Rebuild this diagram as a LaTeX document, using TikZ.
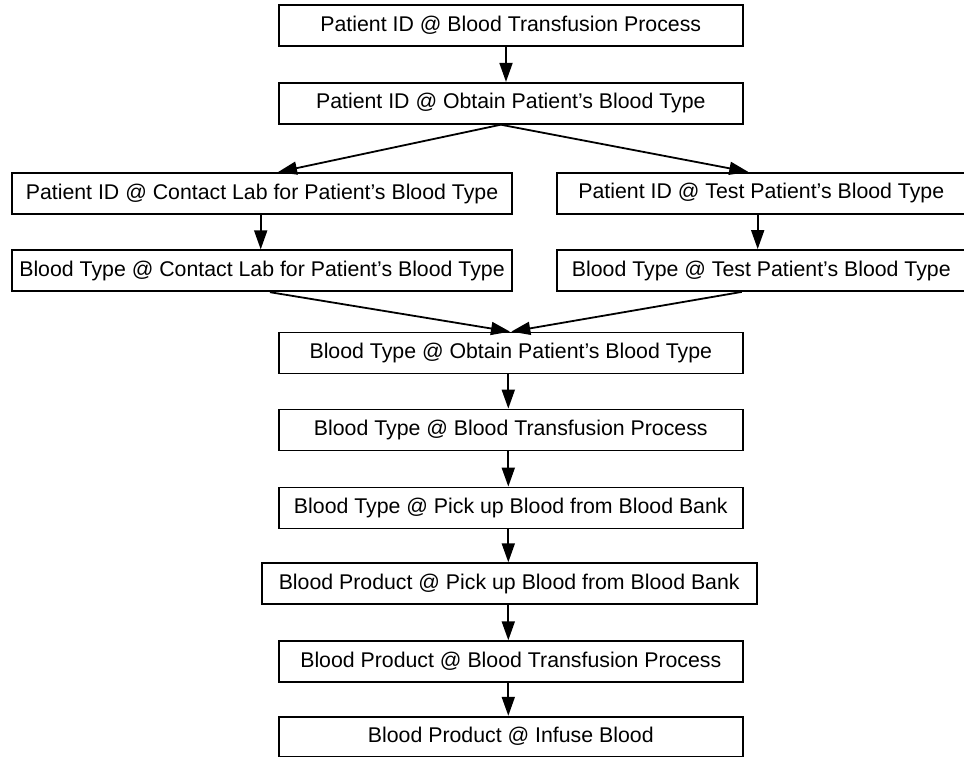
\documentclass[tikz,border=0pt]{standalone}
\usepackage{fontspec}
\setmainfont{Liberation Sans}
\usetikzlibrary{arrows.meta,calc}
\begin{document}
\begin{tikzpicture}[x=1pt,y=-1pt,
  box/.style={draw, line width=1.8pt, inner sep=0pt, minimum height=41pt,
    font=\fontsize{21.3}{26}\selectfont},
  wide/.style={minimum width=463.7pt},
  flow/.style={line width=1.8pt, -{Triangle[length=19pt,width=13pt]}}]
\useasboundingbox (0,0) rectangle (964,757);
\clip (0,0) rectangle (964,757);

% process states
\node[box, wide] (b1) at (510.8,25.5) {Patient ID @ Blood Transfusion Process};
\node[box, wide] (b2) at (510.8,103.3) {Patient ID @ Obtain Patient’s Blood Type};
\node[box, minimum width=500pt] (b3L) at (262,193.5) {Patient ID @ Contact Lab for Patient’s Blood Type};
\node[box, minimum width=409.3pt] (b3R) at (761.3,193.3) {Patient ID @ Test Patient’s Blood Type};
\node[box, minimum width=500pt] (b4L) at (262,270.8) {Blood Type @ Contact Lab for Patient’s Blood Type};
\node[box, minimum width=409.3pt] (b4R) at (761.3,270.5) {Blood Type @ Test Patient’s Blood Type};
\node[box, wide] (b5) at (510.8,353) {Blood Type @ Obtain Patient’s Blood Type};
\node[box, wide] (b6) at (510.8,430) {Blood Type @ Blood Transfusion Process};
\node[box, wide] (b7) at (510.8,508) {Blood Type @ Pick up Blood from Blood Bank};
\node[box, minimum width=495pt] (b8) at (509.2,583.7) {Blood Product @ Pick up Blood from Blood Bank};
\node[box, wide] (b9) at (510.8,661.7) {Blood Product @ Blood Transfusion Process};
\node[box, wide, minimum height=39.8pt] (b10) at (510.8,736.6) {Blood Product @ Infuse Blood};

% transitions
\draw[flow] ([xshift=-4.8pt]b1.south) -- ([xshift=-4.8pt]b2.north);
\draw[flow] ($(b2.south)+(-10,0)$) -- ($(b3L.north)+(16,0)$);
\draw[flow] ($(b2.south)+(-10,0)$) -- ($(b3R.north)+(-13,0)$);
\draw[flow] ([xshift=-1.3pt]b3L.south) -- ([xshift=-1.3pt]b4L.north);
\draw[flow] ([xshift=-3.6pt]b3R.south) -- ([xshift=-3.6pt]b4R.north);
\draw[flow] ($(b4L.south)+(8,0)$) -- ($(b5.north)+(-0.8,0)$);
\draw[flow] ($(b4R.south)+(-19.6,0)$) -- ($(b5.north)+(0.5,0)$);
\draw[flow] ([xshift=-2.5pt]b5.south) -- ([xshift=-2.5pt]b6.north);
\draw[flow] ([xshift=-2.5pt]b6.south) -- ([xshift=-2.5pt]b7.north);
\draw[flow] ([xshift=-2.5pt]b7.south) -- ([xshift=-0.9pt]b8.north);
\draw[flow] ([xshift=-0.9pt]b8.south) -- ([xshift=-2.5pt]b9.north);
\draw[flow] ([xshift=-2.5pt]b9.south) -- ([xshift=-2.5pt]b10.north);
\end{tikzpicture}
\end{document}
